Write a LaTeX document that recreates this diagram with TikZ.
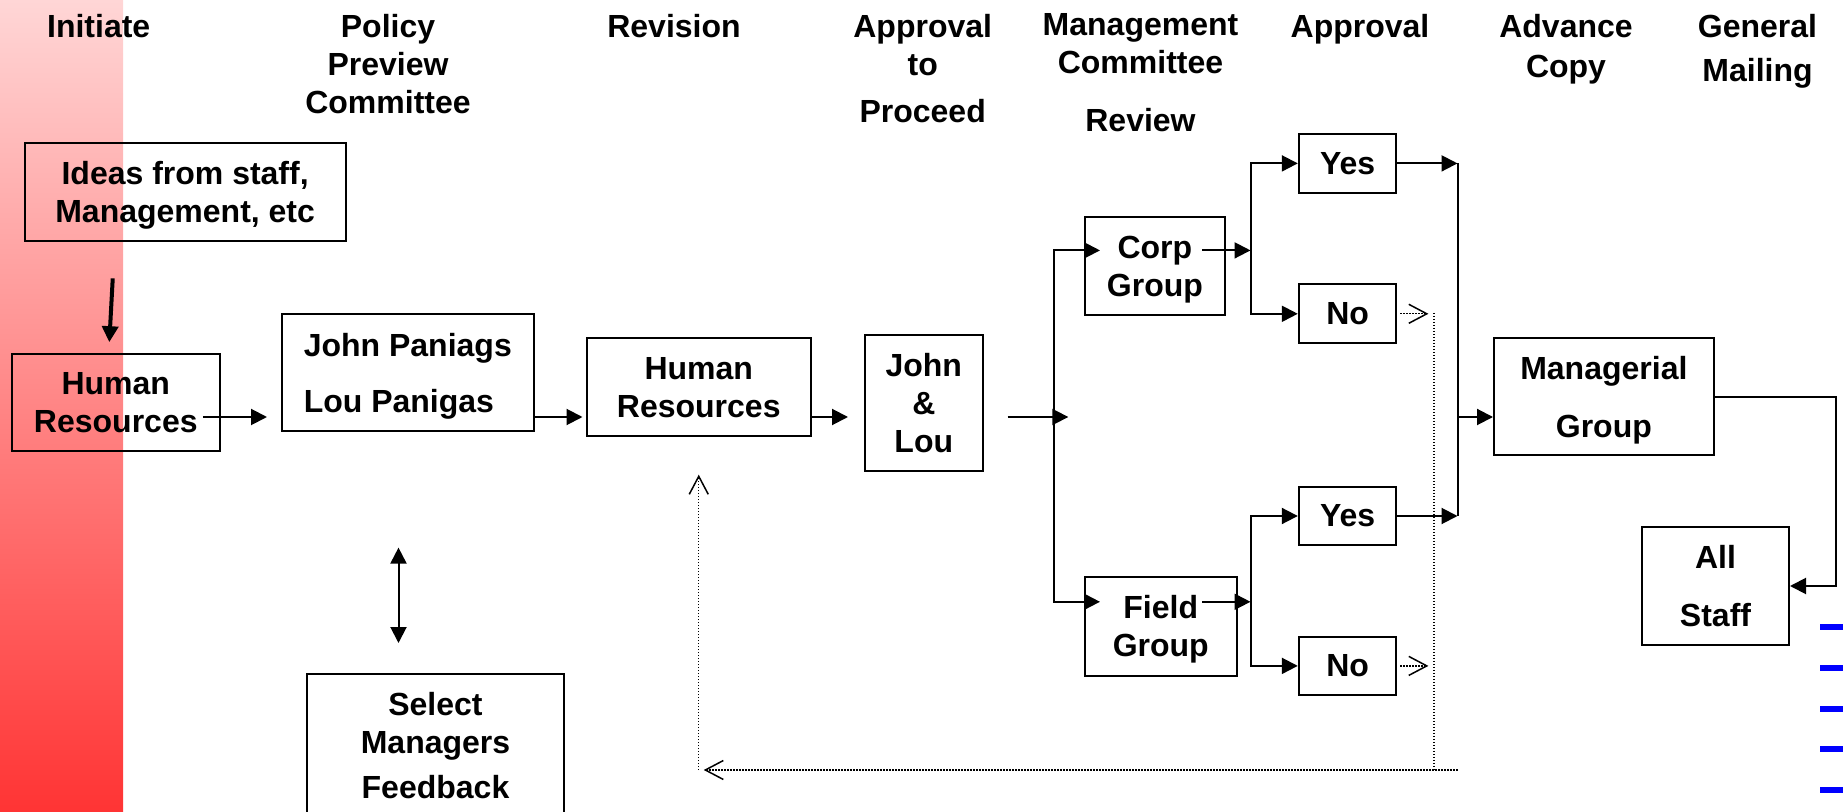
\documentclass[tikz,border=0pt]{standalone}
\usepackage{fontspec}
\setmainfont{Liberation Sans}
\usetikzlibrary{arrows.meta,calc}
\definecolor{bandtop}{RGB}{255,214,214}
\definecolor{bandbot}{RGB}{255,52,52}
\newcommand{\nodep}[1]{\raisebox{0pt}[\height][0pt]{#1}}
\begin{document}
\begin{tikzpicture}[x=0.5pt,y=-0.5pt,
  every node/.style={font=\fontsize{16}{19}\selectfont\bfseries, inner sep=0pt, align=center},
  hdr/.style={anchor=north},
  box/.style={draw, line width=1pt},
  arr/.style={line width=1pt, -{Triangle[length=8pt,width=8pt]}},
  darr/.style={line width=1pt, {Triangle[length=8pt,width=8pt]}-{Triangle[length=8pt,width=8pt]}},
  thickarr/.style={line width=2pt, -{Triangle[length=8pt,width=8pt]}},
  dotl/.style={line width=0.7pt, dash pattern=on 0.7pt off 0.8pt},
  oarr/.style={-{Straight Barb[length=9pt,width=9.5pt,line width=0.75pt]}}
]
\useasboundingbox (0,0) rectangle (1843,812);
\clip (0,0) rectangle (1843,812);

% red band
\shade[top color=bandtop, bottom color=bandbot] (0,0) rectangle (123,812);

% headers
\node[hdr] (hInit) at (98.7,13.5) {Initiate};
\node[hdr] (hPol) at (388,13.5) {Policy\\Preview\\Committee};
\node[hdr] (hRev) at (674,13.5) {Revision};
\node[hdr] (hApp) at (922.7,13.5) {Approval\\to\\[4.85pt]Proceed};
\node[hdr] (hMgt) at (1140.5,13.5) {Management\\Committee\\[9.85pt]Review};
\node[hdr] (hApp2) at (1360,13.5) {Approval};
\node[hdr] (hAdv) at (1566,13.5) {Advance\\[1pt]Copy};
\node[hdr] (hGen) at (1757.5,13.5) {General\\[3pt]Mailing};

% boxes
\node[box, minimum width=160.45pt, minimum height=48.8pt] (ideas) at (185.15,192.2) {Ideas from staff,\\\nodep{Management, etc}};
\node[box, minimum width=104pt, minimum height=48.8pt] (hr1) at (115.8,402.6) {Human\\Resources};
\node[box, minimum width=125.8pt, minimum height=58.8pt, align=left] (jp) at (407.8,372.6) {John Paniags\\[9pt]\nodep{Lou Panigas}};
\node[box, minimum width=112.25pt, minimum height=48.75pt] (hr2) at (698.75,387.25) {Human\\Resources};
\node[box, minimum width=58.8pt, minimum height=68pt] (jl) at (923.8,403) {John\\\&\\Lou};
\node[box, minimum width=69.9pt, minimum height=48.8pt] (corp) at (1154.9,266.2) {Corp\\\nodep{Group}};
\node[box, minimum width=75.75pt, minimum height=49.4pt] (field) at (1160.75,626.4) {Field\\\nodep{Group}};
\node[box, minimum width=48.8pt, minimum height=29.4pt] (yes1) at (1347.6,163.4) {Yes};
\node[box, minimum width=48.8pt, minimum height=29.4pt] (no1) at (1347.6,313.8) {No};
\node[box, minimum width=48.8pt, minimum height=29.4pt] (yes2) at (1347.6,516) {Yes};
\node[box, minimum width=48.8pt, minimum height=29.4pt] (no2) at (1347.6,665.9) {No};
\node[box, minimum width=109.85pt, minimum height=58.25pt] (mgr) at (1603.85,396.75) {Managerial\\[9.85pt]\nodep{Group}};
\node[box, minimum width=73.5pt, minimum height=59pt] (all) at (1715.5,586) {All\\[10pt]Staff};
\node[box, minimum width=128.7pt, minimum height=72.5pt] (sel) at (435.5,746) {Select\\Managers\\[3.5pt]Feedback};

% connectors
\coordinate (row) at (0,417);
\draw[thickarr] ($(ideas.south)+(-72.4,36.4)$) -- ($(hr1.north)+(-6.5,-10.6)$);
\draw[arr] ([xshift=-9pt]hr1.east |- row) -- ([xshift=-7pt]jp.west |- row);
\draw[arr] (jp.east |- row) -- ([xshift=-1.5pt]hr2.west |- row);
\draw[arr] (hr2.east |- row) -- ([xshift=-8pt]jl.west |- row);
\coordinate (tr) at (1054.3,417);
\draw[arr] ([xshift=12pt]jl.east |- row) -- ([xshift=7pt]tr);
\draw[arr] (tr) |- ([xshift=8pt,yshift=7.9pt]corp.west);
\draw[arr] (tr) |- ([xshift=8pt,yshift=12.3pt]field.west);
\coordinate (s1) at ([xshift=12.35pt,yshift=7.9pt]corp.east);
\coordinate (s2) at ([xshift=6.5pt,yshift=12.3pt]field.east);
\draw[arr] ([xshift=-11.9pt,yshift=7.9pt]corp.east) -- (s1);
\draw[arr] ([xshift=-17.75pt,yshift=12.3pt]field.east) -- (s2);
\draw[arr] (s1) |- (yes1.west);
\draw[arr] (s1) |- (no1.west);
\draw[arr] (s2) |- (yes2.west);
\draw[arr] (s2) |- (no2.west);
\coordinate (j) at (1457.5,417);
\draw[arr] (yes1.east) -- (yes1.east -| j);
\draw[arr] (yes2.east) -- (yes2.east -| j);
\draw[line width=1pt] (yes1.east -| j) -- (yes2.east -| j);
\draw[arr] (j) -- (mgr.west |- row);
\coordinate (c2) at (1836,396.75);
\draw[arr] (mgr.east) -- (c2) |- (all.east);

% feedback (dotted)
\coordinate (d) at (1434,770);
\draw[dotl,oarr] ([xshift=1.5pt]no1.east) -- ([xshift=15.5pt]no1.east);
\draw[dotl,oarr] ([xshift=1.5pt]no2.east) -- ([xshift=15.5pt]no2.east);
\draw[dotl] ([yshift=0.5pt]no1.east -| d) -- (d);
\draw[dotl,oarr] (d -| j) -- ([xshift=2.5pt]d -| hr2.south);
\draw[dotl,oarr] (d -| hr2.south) -- ([yshift=-18.85pt]hr2.south);

% double arrow
\draw[darr] ([xshift=-4.65pt,yshift=-57.6pt]jp.south) -- ([xshift=-18.5pt,yshift=14.75pt]sel.north);

% blue dashes
\foreach \yy in {626.7,667.7,709.3,749.3,790}
  \fill[blue] (1820,\yy-3) rectangle (1843,\yy+3);
\end{tikzpicture}
\end{document}
